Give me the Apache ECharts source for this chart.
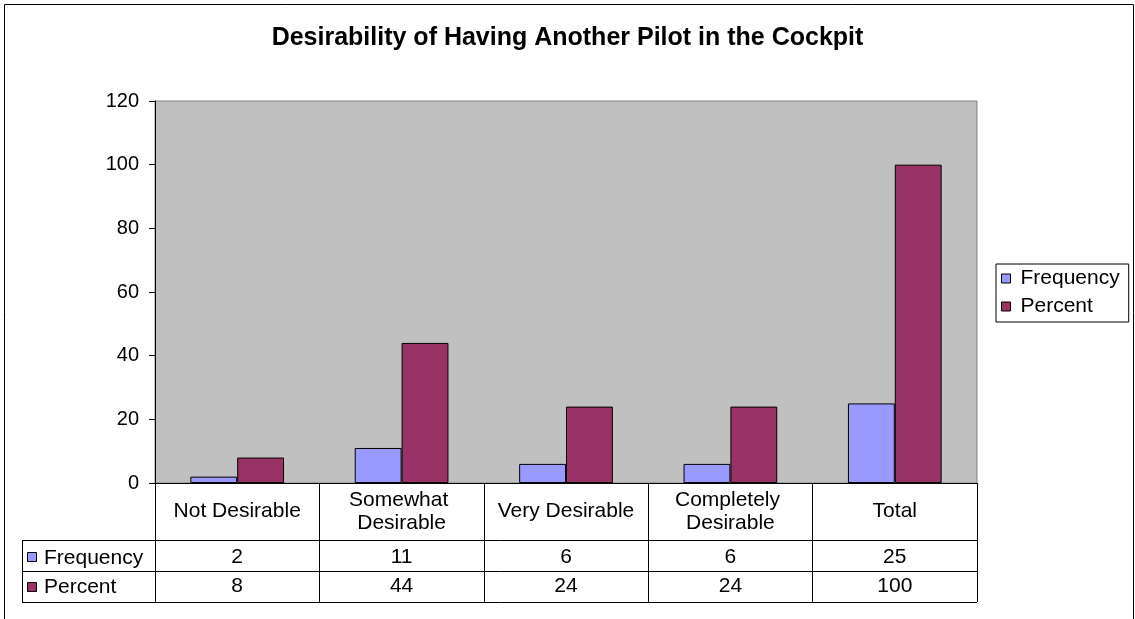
<!DOCTYPE html>
<html>
<head>
<meta charset="utf-8">
<script src="https://cdn.jsdelivr.net/npm/echarts@6/dist/echarts.min.js"></script>
<style>
  html, body { margin: 0; padding: 0; background: #fff; }
  #chart { width: 1135px; height: 619px; }
</style>
</head>
<body>
<div id="chart"></div>
<script>
// Survey responses: desirability of having another pilot in the cockpit
const categories = ['Not Desirable', 'Somewhat Desirable', 'Very Desirable', 'Completely Desirable', 'Total'];
const frequency = [2, 11, 6, 6, 25];
const percent = [8, 44, 24, 24, 100];
const seriesNames = ['Frequency', 'Percent'];
const seriesColors = ['#9999FF', '#993366'];
const yTicks = { min: 0, max: 120, step: 20 };

const FONT = 'Liberation Sans, Arial, sans-serif';
const TXT = 21;

const chart = echarts.init(document.getElementById('chart'));

// Layout of the plot and the data table beneath it
const plot = { left: 155, top: 101, right: 977, bottom: 483 };
const table = { left: 22, catBottom: 540, freqBottom: 571, pctBottom: 602 };

function hLine(y, x1, x2) {
  return { type: 'line', shape: { x1: x1, y1: y + 0.5, x2: x2, y2: y + 0.5 },
           style: { stroke: '#000', lineWidth: 1 }, silent: true };
}

const rowAxis = (values, centerY) => ({
  type: 'category',
  data: categories,
  gridIndex: 0,
  position: 'bottom',
  axisLine: { show: false },
  axisTick: { show: false },
  axisLabel: {
    margin: centerY - plot.bottom,
    verticalAlign: 'middle',
    fontFamily: FONT, fontSize: TXT, color: '#000',
    formatter: (v, i) => String(values[i])
  }
});

const option = {
  animation: false,
  backgroundColor: '#fff',
  title: {
    text: 'Desirability of Having Another Pilot in the Cockpit',
    left: 'center',
    top: 21,
    textStyle: { fontFamily: FONT, fontSize: 25, fontWeight: 'bold', color: '#000' }
  },
  legend: {
    orient: 'vertical',
    left: 996,
    top: 264,
    padding: [4, 9, 5, 5],
    itemGap: 7,
    itemWidth: 9,
    itemHeight: 9,
    icon: 'rect',
    backgroundColor: '#fff',
    borderColor: '#000',
    borderWidth: 1,
    textStyle: { fontFamily: FONT, fontSize: TXT, color: '#000', padding: [0, 0, 0, 5] },
    itemStyle: { borderColor: '#000', borderWidth: 1 },
    data: seriesNames
  },
  grid: {
    left: plot.left,
    top: plot.top,
    width: plot.right - plot.left,
    height: plot.bottom - plot.top,
    show: true,
    backgroundColor: '#C0C0C0',
    borderColor: '#808080',
    borderWidth: 1
  },
  xAxis: [
    {
      type: 'category',
      data: categories,
      position: 'bottom',
      axisLine: { show: true, lineStyle: { color: '#000', width: 1 } },
      axisTick: { show: true, length: table.pctBottom - plot.bottom, lineStyle: { color: '#000', width: 1 } },
      axisLabel: {
        margin: (table.catBottom - plot.bottom) / 2,
        verticalAlign: 'middle',
        width: 155,
        overflow: 'break',
        lineHeight: 23,
        interval: 0,
        fontFamily: FONT, fontSize: TXT, color: '#000'
      }
    },
    rowAxis(frequency, (table.catBottom + table.freqBottom) / 2 + 2),
    rowAxis(percent, (table.freqBottom + table.pctBottom) / 2)
  ],
  yAxis: {
    type: 'value',
    min: yTicks.min,
    max: yTicks.max,
    interval: yTicks.step,
    axisLine: { show: true, lineStyle: { color: '#000', width: 1 } },
    axisTick: { show: true, length: 6, lineStyle: { color: '#000' } },
    splitLine: { show: false },
    axisLabel: { margin: 16, fontFamily: FONT, fontSize: 20, color: '#000' }
  },
  series: [
    {
      name: seriesNames[0], type: 'bar', data: frequency,
      barGap: '0%', barCategoryGap: '43%',
      itemStyle: { color: seriesColors[0], borderColor: '#000', borderWidth: 1 }
    },
    {
      name: seriesNames[1], type: 'bar', data: percent,
      barGap: '0%', barCategoryGap: '43%',
      itemStyle: { color: seriesColors[1], borderColor: '#000', borderWidth: 1 }
    }
  ],
  graphic: [
    // chart area frame
    { type: 'rect', shape: { x: 4.5, y: 4.5, width: 1129, height: 700 },
      style: { fill: 'none', stroke: '#000', lineWidth: 1 }, silent: true },
    // data table rules
    hLine(table.catBottom, table.left, plot.right),
    hLine(table.freqBottom, table.left, plot.right),
    hLine(table.pctBottom, table.left, plot.right),
    { type: 'line', shape: { x1: table.left + 0.5, y1: table.catBottom, x2: table.left + 0.5, y2: table.pctBottom },
      style: { stroke: '#000', lineWidth: 1 }, silent: true },
    // row keys
    { type: 'rect', shape: { x: 27.5, y: 552.5, width: 9, height: 9 },
      style: { fill: seriesColors[0], stroke: '#000', lineWidth: 1 }, silent: true },
    { type: 'text', x: 44, y: 558, style: { text: seriesNames[0], fontFamily: FONT, fontSize: TXT, fill: '#000', verticalAlign: 'middle' }, silent: true },
    { type: 'rect', shape: { x: 27.5, y: 582.5, width: 9, height: 9 },
      style: { fill: seriesColors[1], stroke: '#000', lineWidth: 1 }, silent: true },
    { type: 'text', x: 44, y: 587.5, style: { text: seriesNames[1], fontFamily: FONT, fontSize: TXT, fill: '#000', verticalAlign: 'middle' }, silent: true }
  ]
};

chart.setOption(option);
</script>
</body>
</html>
